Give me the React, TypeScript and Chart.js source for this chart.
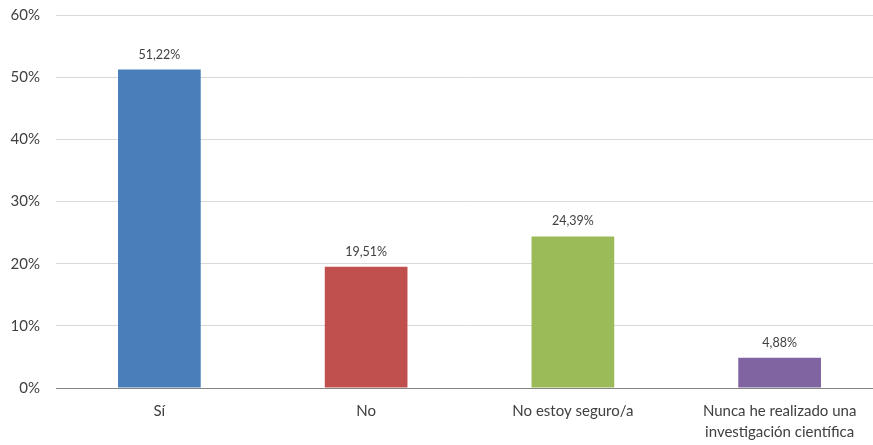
import React, { useEffect, useRef } from "react";
import { Chart, registerables } from "chart.js";

Chart.register(...registerables);

const categories: (string | string[])[] = [
  "Sí",
  "No",
  "No estoy seguro/a",
  ["Nunca he realizado una", "investigación científica"],
];
const percentages = [51.22, 19.51, 24.39, 4.88];
const barColors = ["#4A7EBB", "#C0504D", "#9BBB59", "#8064A2"];
const yTicks = [0, 10, 20, 30, 40, 50, 60];

const FONT = "Lato, 'Open Sans', sans-serif";

const fmt = (v: number) => v.toFixed(2).replace(".", ",") + "%";

// Writes each bar's value just above it
const valueLabels = {
  id: "valueLabels",
  afterDatasetsDraw(chart: any) {
    const ctx = chart.ctx;
    const meta = chart.getDatasetMeta(0);
    ctx.save();
    ctx.font = `12.5px ${FONT}`;
    ctx.fillStyle = "#404040";
    ctx.textAlign = "center";
    ctx.textBaseline = "middle";
    meta.data.forEach((bar: any, i: number) => {
      ctx.fillText(fmt(percentages[i]), bar.x, bar.y - 15);
    });
    ctx.restore();
  },
};

export default function App() {
  const canvasRef = useRef<HTMLCanvasElement>(null);

  useEffect(() => {
    const chart = new Chart(canvasRef.current!, {
      type: "bar",
      data: {
        labels: categories,
        datasets: [
          {
            data: percentages,
            backgroundColor: barColors,
            borderWidth: 0,
            categoryPercentage: 1,
            barPercentage: 0.4,
          },
        ],
      },
      options: {
        animation: false,
        responsive: false,
        layout: { padding: { top: 15, right: 0, left: 0, bottom: 0 } },
        plugins: { legend: { display: false }, tooltip: { enabled: false } },
        scales: {
          x: {
            grid: { display: false, drawTicks: false },
            border: { display: true, color: "#868686", width: 1 },
            ticks: {
              padding: 13,
              color: "#404040",
              font: { family: FONT, size: 15, lineHeight: 1.4 },
              maxRotation: 0,
              autoSkip: false,
            },
            afterFit: (s: any) => {
              s.height = 57;
              s.paddingLeft = 0;
              s.paddingRight = 0;
            },
          },
          y: {
            min: 0,
            max: 60,
            afterBuildTicks: (s: any) => {
              s.ticks = yTicks.map((v) => ({ value: v }));
            },
            grid: { color: "#D9D9D9", drawTicks: false, lineWidth: 1 },
            border: { display: false },
            ticks: {
              padding: 16,
              color: "#404040",
              font: { family: FONT, size: 15 },
              callback: (v: any) => `${v}%`,
            },
            afterFit: (s: any) => {
              s.width = 56;
              s.paddingTop = 0;
              s.paddingBottom = 0;
            },
          },
        },
      },
      plugins: [valueLabels],
    });
    return () => chart.destroy();
  }, []);

  // The plot runs a little past the right edge of the visible frame
  return (
    <div
      style={{
        position: "fixed",
        left: 0,
        top: 0,
        width: 873,
        height: 445,
        overflow: "hidden",
        background: "#fff",
      }}
    >
      <canvas ref={canvasRef} width={883} height={445} style={{ display: "block" }} />
    </div>
  );
}
